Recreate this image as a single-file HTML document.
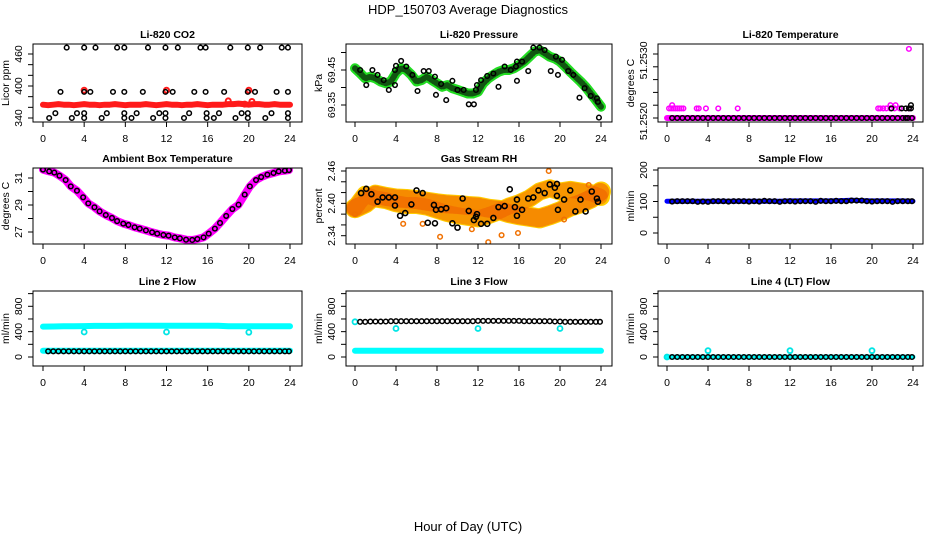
<!DOCTYPE html>
<html><head><meta charset="utf-8">
<style>
html,body{margin:0;padding:0;background:#fff;}
svg{display:block;font-family:"Liberation Sans",Helvetica,sans-serif;}
</style></head>
<body>
<svg id="chart" width="936" height="540" viewBox="0 0 936 540">
<rect width="936" height="540" fill="#fff"/>
<text x="468" y="14" font-size="13" text-anchor="middle">HDP_150703  Average Diagnostics</text>
<text x="468" y="531" font-size="13" text-anchor="middle">Hour of Day (UTC)</text>
</svg>
<script>
// ---------- data ----------
const HALF = [0,0.5,1,1.5,2,2.5,3,3.5,4,4.5,5,5.5,6,6.5,7,7.5,8,8.5,9,9.5,10,10.5,11,11.5,12,12.5,13,13.5,14,14.5,15,15.5,16,16.5,17,17.5,18,18.5,19,19.5,20,20.5,21,21.5,22,22.5,23,23.5,24];
const HOURS = [0,1,2,3,4,5,6,7,8,9,10,11,12,13,14,15,16,17,18,19,20,21,22,23,24];
const BLK_H = [0.5,1,1.5,2,2.5,3,3.5,4,4.5,5,5.5,6,6.5,7,7.5,8,8.5,9,9.5,10,10.5,11,11.5,12,12.5,13,13.5,14,14.5,15,15.5,16,16.5,17,17.5,18,18.5,19,19.5,20,20.5,21,21.5,22,22.5,23,23.5,23.9];
const X_TICK_LABELS = ["0","4","8","12","16","20","24"];
const X_TICKS = [0,4,8,12,16,20,24];

// CO2
const co2Red = [365,364,365,366,365,365,364,365,366,365,365,364,365,365,366,365,364,365,365,365,366,365,364,365,366,365,365,364,365,365,366,365,364,365,365,365,366,366,367,366,365,366,366,365,365,366,365,365,365];
const co2RedExH = [4,12,20,18,20.3,19.6];
const co2RedExV = [392,392,392,372,371,366];
const co2BlkH = [2.3,4.0,5.1,7.2,7.9,10.2,11.9,13.1,15.3,15.8,18.2,19.9,21.1,23.2,23.8, 1.7,4.0,4.6,6.8,7.9,9.7,11.9,12.6,14.7,15.8,17.6,19.9,20.6,22.7,23.8, 1.2,3.3,4.0,6.2,7.9,9.1,11.3,11.9,14.2,15.9,17.1,19.3,19.9,22.2,23.8, 0.6,2.8,4.0,5.7,7.9,8.6,10.7,11.9,13.7,15.9,16.6,18.7,19.9,21.6,23.8];
const co2BlkV = [472,472,472,472,472,472,472,472,472,472,472,472,472,472,472, 389,389,389,389,389,389,389,389,389,389,389,389,389,389,389, 349,349,349,349,349,349,349,349,349,349,349,349,349,349,349, 340,340,340,340,340,340,340,340,340,340,340,340,340,340,340];

// Pressure
const presGreen = [69.455,69.441,69.426,69.431,69.426,69.417,69.412,69.417,69.441,69.455,69.45,69.436,69.417,69.421,69.431,69.421,69.412,69.402,69.407,69.398,69.393,69.388,69.383,69.383,69.388,69.412,69.426,69.436,69.445,69.45,69.45,69.455,69.464,69.474,69.488,69.502,69.507,69.498,69.488,69.483,69.474,69.460,69.445,69.431,69.417,69.402,69.383,69.364,69.345];
const presBlkH = [0.5,1.1,1.7,2.2,2.8,3.3,3.9,3.9,4.0,4.5,5.0,5.6,6.1,6.7,7.2,7.8,7.9,8.4,8.9,9.5,10.0,10.6,11.1,11.6,11.8,11.9,12.3,12.9,13.5,14.0,14.6,15.2,15.7,15.8,15.8,16.3,16.9,17.4,18.0,18.5,19.1,19.6,19.8,20.2,20.8,21.3,21.9,22.4,23.0,23.6,23.7,23.8];
const presBlkV = [69.45,69.407,69.45,69.436,69.421,69.393,69.45,69.407,69.462,69.476,69.46,69.436,69.39,69.447,69.447,69.431,69.379,69.41,69.364,69.419,69.393,69.393,69.352,69.352,69.393,69.407,69.421,69.433,69.44,69.402,69.46,69.45,69.46,69.474,69.419,69.474,69.447,69.514,69.514,69.507,69.447,69.488,69.436,69.479,69.447,69.436,69.371,69.398,69.376,69.369,69.359,69.314];

// Li-820 temperature
const tMagH = [0.2,0.4,0.6,0.8,1.0,1.2,1.4,1.6,2.9,3.1,3.8,5.0,6.9,20.6,20.8,21.1,21.4,21.8,22.2,22.7,23.6,0.5,21.8,22.3,23.6];
const tMagV = [51.25215,51.25215,51.25215,51.25215,51.25215,51.25215,51.25215,51.25215,51.25215,51.25215,51.25215,51.25215,51.25215,51.25215,51.25215,51.25215,51.25215,51.25215,51.25215,51.25215,51.25215,51.2522,51.2522,51.2522,51.25308];
const tMagBand = [51.2520,51.2520,51.2520,51.2520,51.2520,51.2520,51.2520,51.2520,51.2520,51.2520,51.2520,51.2520,51.2520,51.2520,51.2520,51.2520,51.2520,51.2520,51.2520,51.2520,51.2520,51.2520,51.2520,51.2520,51.2520];
const tBlkExH = [21.9,22.9,23.3,23.6,23.8,23.8,23.3];
const tBlkExV = [51.25215,51.25215,51.25215,51.25215,51.2522,51.25215,51.2520];

// Ambient
const ambH = [0,0.6,1.1,1.6,2.2,2.7,3.3,3.9,4.4,5,5.5,6.1,6.7,7.2,7.8,8.3,8.9,9.4,10,10.6,11.1,11.7,12.2,12.8,13.3,13.9,14.5,15,15.6,16.1,16.7,17.2,17.8,18.4,19,19.6,20.1,20.7,21.2,21.8,22.4,22.9,23.5,23.9];
const ambV = [31.62,31.49,31.40,31.17,30.85,30.38,30.06,29.57,29.12,28.83,28.53,28.26,28.04,27.81,27.62,27.52,27.35,27.25,27.12,26.98,26.88,26.78,26.73,26.60,26.53,26.43,26.41,26.48,26.60,26.88,27.25,27.67,28.19,28.70,29.02,29.77,30.38,30.85,31.07,31.25,31.37,31.49,31.54,31.59];

// RH
const rhBand = [2.391,2.400,2.416,2.412,2.409,2.408,2.406,2.403,2.400,2.398,2.397,2.395,2.394,2.390,2.388,2.382,2.378,2.375,2.372,2.378,2.385,2.394,2.400,2.409,2.422];
const rhBand2 = [2.391,2.416,2.409,2.406,2.400,2.397,2.397,2.394,2.388,2.382,2.378,2.375,2.372,2.378,2.385,2.394,2.400,2.409,2.422,2.428,2.422,2.425,2.422,2.419,2.412];
const rhOrH = [18.9,13.0,8.3,14.3,22.8,20.4,0.0,15.9,11.4,6.6,4.7];
const rhOrV = [2.460,2.328,2.338,2.341,2.434,2.370,2.380,2.345,2.352,2.362,2.362];
const rhBlkH = [0.6,1.1,1.6,2.2,2.7,3.3,3.9,3.9,4.4,4.9,5.5,6.0,6.6,7.1,7.7,7.8,7.9,8.4,8.9,9.5,10.0,10.5,11.1,11.6,11.8,11.9,12.3,12.9,13.5,14.0,14.6,15.1,15.6,15.8,15.8,16.3,16.9,17.4,17.9,18.5,19.0,19.5,19.7,19.7,19.8,20.4,21.0,21.5,22.0,22.5,23.1,23.6,23.7];
const rhBlkV = [2.419,2.427,2.417,2.403,2.411,2.411,2.411,2.396,2.377,2.382,2.398,2.424,2.419,2.364,2.397,2.363,2.388,2.389,2.391,2.363,2.355,2.409,2.386,2.369,2.375,2.380,2.362,2.362,2.373,2.393,2.395,2.426,2.393,2.407,2.377,2.388,2.409,2.411,2.424,2.419,2.435,2.429,2.436,2.414,2.388,2.407,2.424,2.385,2.407,2.385,2.422,2.409,2.403];

// Sample flow
const sfBlue = [101,101,101,101,101,101,101,101,101,101,101,101,102,102,102,102,102,103,104,103,102,102,102,102,101];
const sfBlk = [100,101,101,101,101,99,100,99,101,101,101,100,101,101,101,100,101,100,102,101,101,99,101,101,100,101,101,101,99,102,101,101,102,101,101,103,103,103,101,100,101,101,101,99,101,101,101,101];

// Line 2
const l2Upper = [480,482,484,486,488,490,490,490,492,494,494,494,494,494,494,494,494,494,486,484,484,484,484,484,484];
const l2Low = [100,100,100,100,100,100,100,100,100,100,100,100,100,100,100,100,100,100,100,100,100,100,100,100,100];
const l2ExH = [4,12,20];
const l2ExV = [395,395,390];
const l2Blk = [90,90,90,90,90,90,90,90,90,90,90,90,90,90,90,90,90,90,90,90,90,90,90,90,90,90,90,90,90,90,90,90,90,90,90,90,90,90,90,90,90,90,90,90,90,90,90,90];

// Line 3
const l3Cyan = [98,98,100,98,100,98,100,100,100,100,100,100,100,100,100,100,100,100,100,100,100,100,100,100,98];
const l3ExH = [0,4,12,20];
const l3ExV = [555,450,450,450];
const l3Blk = [555,555,560,560,560,560,565,565,565,565,565,565,565,565,565,565,565,565,565,565,565,565,565,570,570,570,570,570,570,570,570,570,565,565,565,565,565,565,560,560,555,555,555,555,555,555,555,555];

// Line 4
const l4Cyan = [0,0,0,0,0,0,0,0,0,0,0,0,0,0,0,0,0,0,0,0,0,0,0,0,0];
const l4ExH = [0,4,12,20];
const l4ExV = [0,100,100,100];
const l4Blk = [0,0,0,0,0,0,0,0,0,0,0,0,0,0,0,0,0,0,0,0,0,0,0,0,0,0,0,0,0,0,0,0,0,0,0,0,0,0,0,0,0,0,0,0,0,0,0,0];

// ---------- drawing ----------
const NS = "http://www.w3.org/2000/svg";
const svg = document.getElementById("chart");
const COLS = [{bx0:33,bx1:302,xz:43,x24:290},{bx0:346,bx1:612,xz:355,x24:601},{bx0:658,bx1:923,xz:667,x24:913}];
const ROWS = [{by0:44,by1:122},{by0:168,by1:244},{by0:291,by1:366}];

function mk(tag, attrs, parent){
  const e = document.createElementNS(NS, tag);
  for (const k in attrs) e.setAttribute(k, attrs[k]);
  (parent||svg).appendChild(e);
  return e;
}

function makePanel(r, c, title, ytitle, v1, p1, v2, p2, yticks, ylabels, ylabelVals){
  const C = COLS[c], R = ROWS[r];
  const g = mk("g", {});
  
  
  const xs = h => C.xz + h * (C.x24 - C.xz) / 24;
  const ys = v => p1 + (v - v1) * (p2 - p1) / (v2 - v1);
  const clip = mk("clipPath", {id:"clip"+r+c}, g);
  mk("rect", {x:C.bx0, y:R.by0, width:C.bx1-C.bx0, height:R.by1-R.by0}, clip);
  const plot = mk("g", {"clip-path":"url(#clip"+r+c+")"}, g);
  
  
  const box = mk("rect", {x:C.bx0, y:R.by0, width:C.bx1-C.bx0, height:R.by1-R.by0, fill:"none", stroke:"#000", "stroke-width":1}, g);
  
  
  const t = mk("text", {x:(C.bx0+C.bx1)/2, y:R.by0-6, "font-size":10.5, "font-weight":"bold", "text-anchor":"middle"}, g);
  t.textContent = title;
  
  
  X_TICKS.forEach((h, i) => {
    const x = xs(h);
    mk("line", {x1:x, x2:x, y1:R.by1, y2:R.by1+5, stroke:"#000"}, g);
    const tl = mk("text", {x:x, y:R.by1+20, "font-size":10.5, "text-anchor":"middle"}, g);
    tl.textContent = X_TICK_LABELS[i];
    
    
  });
  yticks.forEach(v => {
    const y = ys(v);
    mk("line", {x1:C.bx0-5, x2:C.bx0, y1:y, y2:y, stroke:"#000"}, g);
  });
  ylabels.forEach((lab, i) => {
    const y = ys(ylabelVals[i]);
    const yl = mk("text", {x:0, y:0, "font-size":10.5, "text-anchor":"middle", transform:"translate("+(C.bx0-11)+","+y+") rotate(-90)"}, g);
    yl.textContent = lab;
    
    
  });
  const yt = mk("text", {x:0, y:0, "font-size":10.5, "text-anchor":"middle", transform:"translate("+(C.bx0-24)+","+((R.by0+R.by1)/2)+") rotate(-90)"}, g);
  yt.textContent = ytitle;
  
  
  return {plot, xs, ys};
}

function band(P, hs, vs, color, w, name){
  const pts = hs.map((h,i) => P.xs(h).toFixed(1)+","+P.ys(vs[i]).toFixed(1)).join(" ");
  const pl = mk("polyline", {points:pts, fill:"none", stroke:color, "stroke-width":w, "stroke-linejoin":"round", "stroke-linecap":"round"}, P.plot);
  
  
  return pl;
}
function points(P, hs, vs, color, r, sw, name){
  hs.forEach((h,i) => {
    const c = mk("circle", {cx:P.xs(h), cy:P.ys(vs[i]), r:r, fill:"none", stroke:color, "stroke-width":sw}, P.plot);
    
    
  });
}

// Panel 1: CO2
let P = makePanel(0,0,"Li-820 CO2","Licor ppm",340,118,460,54,[340,360,380,400,420,440,460],["340","400","460"],[340,400,460]);
band(P, HALF, co2Red, "#ff1a1a", 6, "co2-red-band");
points(P, co2RedExH, co2RedExV, "#ff1a1a", 2.5, 2, "co2-red-point");
points(P, co2BlkH, co2BlkV, "#000", 2.3, 1.5, "co2-black-point");

// Panel 2: Pressure
P = makePanel(0,1,"Li-820 Pressure","kPa",69.35,105,69.45,70,[69.35,69.40,69.45,69.50],["69.35","69.45"],[69.35,69.45]);
band(P, HALF, presGreen, "#22dd22", 10, "pressure-green-band");
const pd = band(P, HALF, presGreen, "#115511", 6, "pressure-band-speckle");
pd.setAttribute("stroke-dasharray","1 2");
points(P, presBlkH, presBlkV, "#000", 2.3, 1.5, "pressure-black-point");

// Panel 3: Li-820 temperature
P = makePanel(0,2,"Li-820 Temperature","degrees C",51.2520,118,51.2530,54,[51.2520,51.2522,51.2524,51.2526,51.2528,51.2530],["51.2520","51.2530"],[51.25195,51.2529]);
band(P, HOURS, tMagBand, "#ff00ff", 6, "temp-magenta-band");
points(P, tMagH, tMagV, "#ff00ff", 2.3, 1.5, "temp-magenta-point");
points(P, BLK_H, BLK_H.map(()=>tMagBand[0]), "#000", 2.3, 1.5, "temp-black-point");
points(P, tBlkExH, tBlkExV, "#000", 2.3, 1.5, "temp-black-point");

// Panel 4: Ambient box temperature
P = makePanel(1,0,"Ambient Box Temperature","degrees C",31,178,27,232,[27,28,29,30,31],["27","29","31"],[27,29,31]);
band(P, ambH, ambV, "#ff00ff", 8, "ambient-magenta-band");
points(P, ambH, ambV, "#000", 2.3, 1.5, "ambient-black-point");

// Panel 5: Gas stream RH
P = makePanel(1,1,"Gas Stream RH","percent",2.34,235.7,2.46,171,[2.34,2.36,2.38,2.40,2.42,2.44,2.46],["2.34","2.40","2.46"],[2.34,2.40,2.46]);
band(P, HOURS, rhBand, "#ffcc00", 20, "rh-yellow-band");
band(P, HOURS, rhBand2, "#ffcc00", 18, "rh-yellow-band-2");
const rd = band(P, HOURS, rhBand, "#ee5500", 18, "rh-band-speckle");
rd.setAttribute("stroke-dasharray","1.5 2.5"); rd.setAttribute("stroke-opacity","0.55");
const rd2 = band(P, HOURS, rhBand2, "#ee5500", 16, "rh-band-speckle-2");
rd2.setAttribute("stroke-dasharray","1.5 3"); rd2.setAttribute("stroke-opacity","0.45");
points(P, rhOrH, rhOrV, "#f07000", 2.3, 1.5, "rh-orange-point");
points(P, rhBlkH, rhBlkV, "#000", 2.5, 1.6, "rh-black-point");

// Panel 6: Sample flow
P = makePanel(1,2,"Sample Flow","ml/min",0,233,200,170,[0,50,100,150,200],["0","100","200"],[0,100,200]);
band(P, HOURS, sfBlue, "#0000ff", 5, "sample-flow-blue-band");
points(P, BLK_H, sfBlk, "#000", 2.3, 1.6, "sample-flow-black-point");

// Panel 7: Line 2 flow
P = makePanel(2,0,"Line 2 Flow","ml/min",0,357,800,306.3,[0,200,400,600,800,1000],["0","400","800"],[0,400,800]);
band(P, HOURS, l2Upper, "#00ffff", 6, "line2-cyan-upper-band");
band(P, HOURS, l2Low, "#00ffff", 6, "line2-cyan-lower-band");
points(P, l2ExH, l2ExV, "#00e5e5", 2.5, 1.8, "line2-cyan-point");
points(P, BLK_H, l2Blk, "#000", 2.3, 1.5, "line2-black-point");

// Panel 8: Line 3 flow
P = makePanel(2,1,"Line 3 Flow","ml/min",0,357,800,306.3,[0,200,400,600,800,1000],["0","400","800"],[0,400,800]);
band(P, HOURS, l3Cyan, "#00ffff", 6, "line3-cyan-band");
points(P, l3ExH, l3ExV, "#00e5e5", 2.5, 1.8, "line3-cyan-point");
points(P, BLK_H, l3Blk, "#000", 2.3, 1.5, "line3-black-point");

// Panel 9: Line 4 flow
P = makePanel(2,2,"Line 4 (LT) Flow","ml/min",0,357,800,306.3,[0,200,400,600,800,1000],["0","400","800"],[0,400,800]);
band(P, HOURS, l4Cyan, "#00ffff", 5, "line4-cyan-band");
points(P, l4ExH, l4ExV, "#00e5e5", 2.5, 1.8, "line4-cyan-point");
points(P, BLK_H, l4Blk, "#000", 2.3, 1.5, "line4-black-point");
</script>
</body></html>
